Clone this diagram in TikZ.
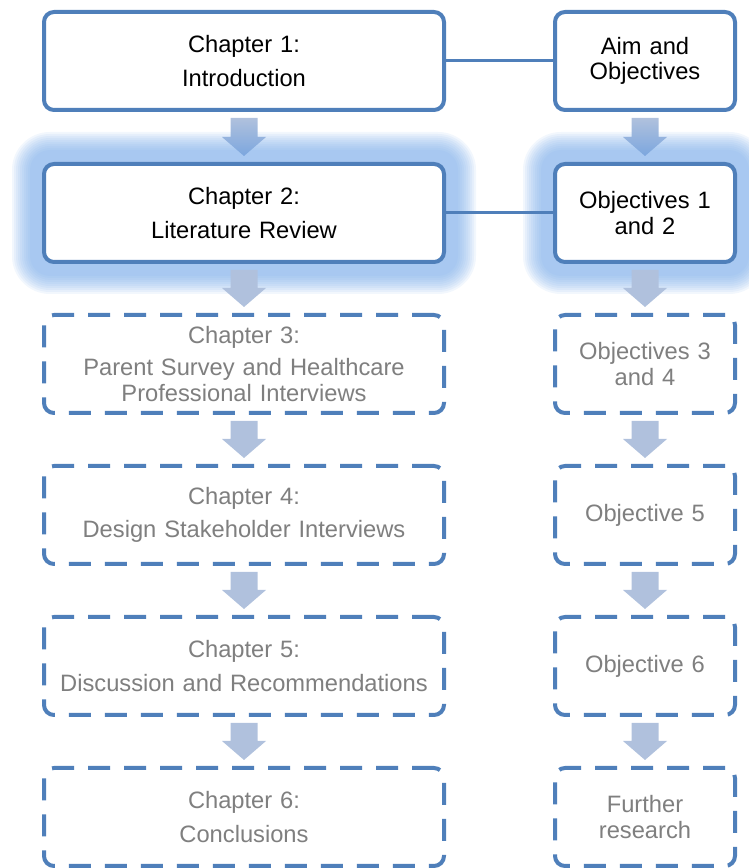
\documentclass[tikz,border=0pt]{standalone}
\usepackage{fontspec}
\setmainfont{Liberation Sans}
\usetikzlibrary{calc,backgrounds}
\definecolor{boxblue}{HTML}{4F7FBA}
\definecolor{arrowblue}{HTML}{B0C1DD}
\definecolor{arrowdeep}{HTML}{7BA6DE}
\definecolor{glowblue}{HTML}{7BACE9}
\definecolor{fadedtext}{HTML}{7F7F7F}
\tikzstyle{chapter}=[shape=rectangle,rounded corners=10pt,draw=boxblue,line width=4pt,fill=white,minimum width=400pt,minimum height=98pt,text width=380pt,align=center,font=\fontsize{23.7}{25.5}\selectfont]
\tikzstyle{objective}=[chapter,minimum width=180pt,text width=160pt]
\tikzstyle{pending}=[dash pattern=on 22pt off 14pt,text=fadedtext]
\tikzstyle{link}=[draw=boxblue,line width=3pt]
\tikzstyle{flatarrow}=[fill=arrowblue]
\tikzstyle{glowarrow}=[top color=arrowblue,bottom color=arrowdeep]
\newcommand{\flowarrow}[3][flatarrow]{%
	\path[#1] ($(#2.south)+(-13.5,-6)$) -- ($(#2.south)+(13.5,-6)$)
		-- ($(#3.north)+(13.5,25)$) -- ($(#3.north)+(22,25)$)
		-- ($(#3.north)+(0,6)$) -- ($(#3.north)+(-22,25)$)
		-- ($(#3.north)+(-13.5,25)$) -- cycle;}
\newcommand{\glow}[1]{%
	\foreach \g in {12,14,...,30}
		\fill[glowblue,opacity=0.1,rounded corners=\g pt+8pt] ($(#1.south west)+(-\g,-\g)$) rectangle ($(#1.north east)+(\g,\g)$);}

\begin{document}
\begin{tikzpicture}[x=1pt,y=1pt]
		\useasboundingbox (0,0) rectangle (748,868);

		% chapters
		\node[chapter] (c1) at (244,807) {Chapter 1:\\[8pt]Introduction};
		\node[chapter] (c2) at (244,655) {Chapter 2:\\[8pt]Literature Review};
		\node[chapter,pending] (c3) at (244,504) {Chapter 3:\\[7pt]Parent Survey and Healthcare\\Professional Interviews};
		\node[chapter,pending] (c4) at (244,353) {Chapter 4:\\[8pt]Design Stakeholder Interviews};
		\node[chapter,pending] (c5) at (244,202) {Chapter 5:\\[8pt]Discussion and Recommendations};
		\node[chapter,pending] (c6) at (244,51) {Chapter 6:\\[8pt]Conclusions};

		% objectives
		\node[objective] (o1) at (645,807) {Aim and\\Objectives}
			edge [link] (c1);
		\node[objective] (o2) at (645,655) {Objectives 1\\and 2}
			edge [link] (c2);
		\node[objective,pending] (o3) at (645,504) {Objectives 3\\and 4};
		\node[objective,pending] (o4) at (645,353) {Objective 5};
		\node[objective,pending] (o5) at (645,202) {Objective 6};
		\node[objective,pending] (o6) at (645,51) {Further\\research};

		% current step
		\begin{pgfonlayer}{background}
			\glow{c2}
			\glow{o2}
		\end{pgfonlayer}

		% arrows
		\flowarrow[glowarrow]{c1}{c2}
		\flowarrow{c2}{c3}
		\flowarrow{c3}{c4}
		\flowarrow{c4}{c5}
		\flowarrow{c5}{c6}
		\flowarrow[glowarrow]{o1}{o2}
		\flowarrow{o2}{o3}
		\flowarrow{o3}{o4}
		\flowarrow{o4}{o5}
		\flowarrow{o5}{o6}

\end{tikzpicture}
\end{document}
